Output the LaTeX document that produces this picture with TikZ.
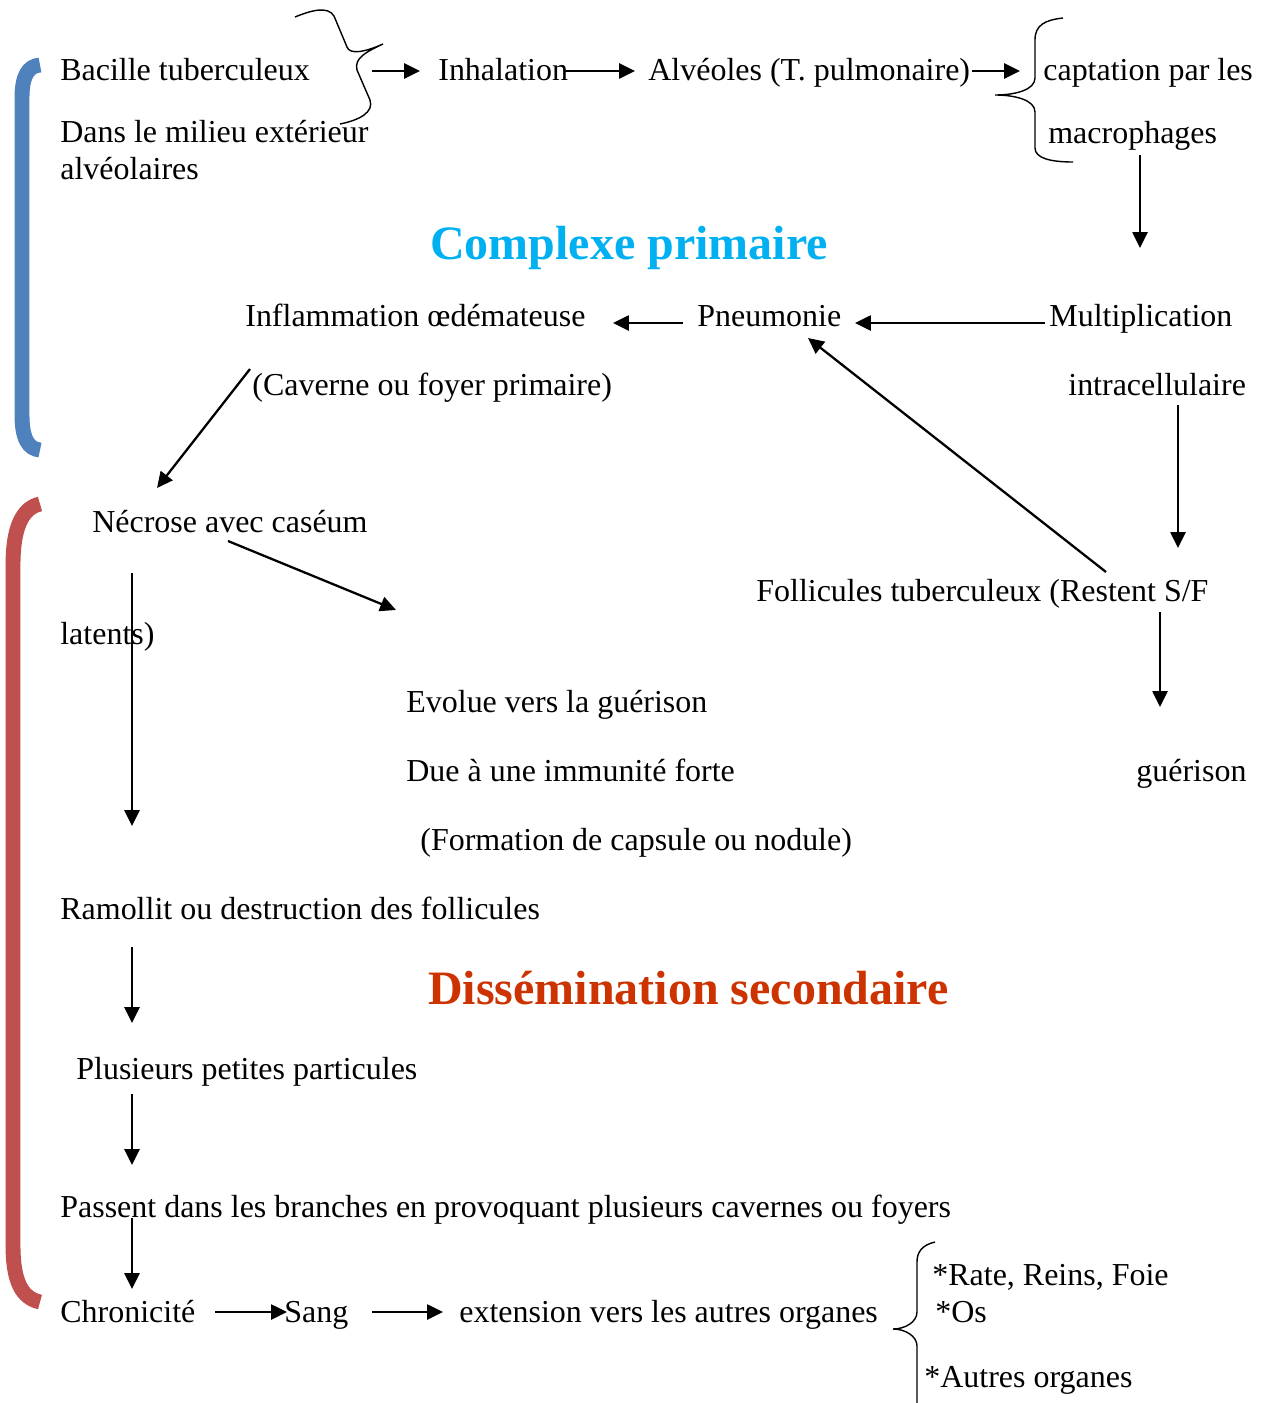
\documentclass[tikz,border=0pt]{standalone}
\usepackage{fontspec}
\setmainfont{Liberation Serif}
\usetikzlibrary{arrows.meta}
\definecolor{cyantitre}{HTML}{00B0F0}
\definecolor{rougetitre}{HTML}{CC3300}
\definecolor{barbleue}{HTML}{4F81BD}
\definecolor{barrouge}{HTML}{C0504D}
\tikzset{
  txt/.style={anchor=base west, inner sep=0pt, font=\fontsize{18.2}{21}\selectfont},
  titre/.style={anchor=base west, inner sep=0pt, font=\fontsize{27.3}{32}\selectfont\bfseries},
  flow/.style={line width=1.3pt, -{Triangle[length=9pt,width=8.5pt]}},
  accol/.style={line width=0.8pt},
  crochet/.style={line width=8.5pt}
}
\begin{document}
\begin{tikzpicture}[x=0.02cm, y=-0.02cm]
\useasboundingbox (0,0) rectangle (1262,1403);

% crochets de couleur
\draw[crochet, barbleue] (40,65) .. controls (28,66) and (22,76) .. (22,98) -- (22,415) .. controls (22,438) and (28,449) .. (40,450);
\draw[crochet, barrouge] (40,504) .. controls (22,508) and (13,528) .. (13,565) -- (13,1245) .. controls (13,1282) and (22,1298) .. (40,1302);

% accolades
\draw[accol] (295,17) .. controls (312,10) and (328,6) .. (334,16) -- (347,47) .. controls (350,55) and (365,52) .. (383,44) .. controls (366,52) and (354,58) .. (357,70) -- (370,100) .. controls (374,112) and (360,120) .. (340,124);
\draw[accol] (1063,18) .. controls (1045,20) and (1035,25) .. (1035,40) -- (1035,78) .. controls (1035,90) and (1015,95) .. (995,95) .. controls (1015,95) and (1035,100) .. (1035,112) -- (1035,148) .. controls (1035,158) and (1050,162) .. (1073,162);
\draw[accol] (935,1242) .. controls (922,1245) and (917,1252) .. (917,1262) -- (917,1312) .. controls (917,1322) and (905,1329) .. (893,1329) .. controls (905,1329) and (917,1336) .. (917,1346) -- (917,1405);

% textes
\node[txt] (bacille) at (60,80) {Bacille tuberculeux};
\node[txt] (milieu) at (60,142) {Dans le milieu extérieur};
\node[txt] (alveolaires) at (60,179) {alvéolaires};
\node[txt] (inhal) at (438,80) {Inhalation};
\node[txt] (alveoles) at (648,80) {Alvéoles (T. pulmonaire)};
\node[txt] (captation) at (1043,80) {captation par les};
\node[txt] (macro) at (1048,143) {macrophages};
\node[titre, cyantitre] (complexe) at (430,259) {Complexe primaire};
\node[txt] (inflam) at (245,326) {Inflammation œdémateuse};
\node[txt] (pneumo) at (697,326) {Pneumonie};
\node[txt] (multi) at (1049,326) {Multiplication};
\node[txt] (caverne) at (252,395) {(Caverne ou foyer primaire)};
\node[txt] (intra) at (1068,395) {intracellulaire};
\node[txt] (necrose) at (92,532) {Nécrose avec caséum};
\node[txt] (follic) at (756,601) {Follicules tuberculeux (Restent S/F};
\node[txt] (latents) at (60,644) {latents)};
\node[txt] (evolue) at (406,712) {Evolue vers la guérison};
\node[txt] (due) at (406,781) {Due à une immunité forte};
\node[txt] (formation) at (420,850) {(Formation de capsule ou nodule)};
\node[txt] (guerison) at (1136,781) {guérison};
\node[txt] (ramollit) at (60,919) {Ramollit ou destruction des follicules};
\node[titre, rougetitre] (dissem) at (428,1004) {Dissémination secondaire};
\node[txt] (plusieurs) at (76,1079) {Plusieurs petites particules};
\node[txt] (passent) at (60,1217) {Passent dans les branches en provoquant plusieurs cavernes ou foyers};
\node[txt] (chron) at (60,1322) {Chronicité};
\node[txt] (sang) at (284,1322) {Sang};
\node[txt] (extension) at (459,1322) {extension vers les autres organes};
\node[txt] (rate) at (932,1285) {*Rate, Reins, Foie};
\node[txt] (os) at (935,1322) {*Os};
\node[txt] (autres) at (924,1387) {*Autres organes};

% bouts des fleches
\coordinate (bac-a) at (372,71);   \coordinate (bac-b) at (420,71);
\coordinate (inh-a) at (565,71);   \coordinate (inh-b) at (635,71);
\coordinate (alv-a) at (972,71);   \coordinate (alv-b) at (1020,71);
\coordinate (mac-a) at (1140,155); \coordinate (mac-b) at (1140,248);
\coordinate (mul-a) at (1045,323); \coordinate (mul-b) at (855,323);
\coordinate (pne-a) at (683,323);  \coordinate (pne-b) at (613,323);
\coordinate (fol-a) at (1106,572); \coordinate (fol-b) at (808,338);
\coordinate (cav-a) at (250,369);  \coordinate (cav-b) at (157,488);
\coordinate (int-a) at (1178,405); \coordinate (int-b) at (1178,548);
\coordinate (nec-a) at (228,541);  \coordinate (nec-b) at (396,610);
\coordinate (lat-a) at (132,573);  \coordinate (lat-b) at (132,826);
\coordinate (res-a) at (1160,612); \coordinate (res-b) at (1160,707);
\coordinate (ram-a) at (132,947);  \coordinate (ram-b) at (132,1023);
\coordinate (plu-a) at (132,1094); \coordinate (plu-b) at (132,1165);
\coordinate (pas-a) at (132,1218); \coordinate (pas-b) at (132,1289);
\coordinate (chr-a) at (215,1312); \coordinate (chr-b) at (287,1312);
\coordinate (san-a) at (372,1312); \coordinate (san-b) at (443,1312);

% fleches
\foreach \a in {bac,inh,alv,mac,mul,pne,fol,cav,int,nec,lat,res,ram,plu,pas,chr,san}
  \draw[flow] (\a-a) -- (\a-b);
\end{tikzpicture}
\end{document}
